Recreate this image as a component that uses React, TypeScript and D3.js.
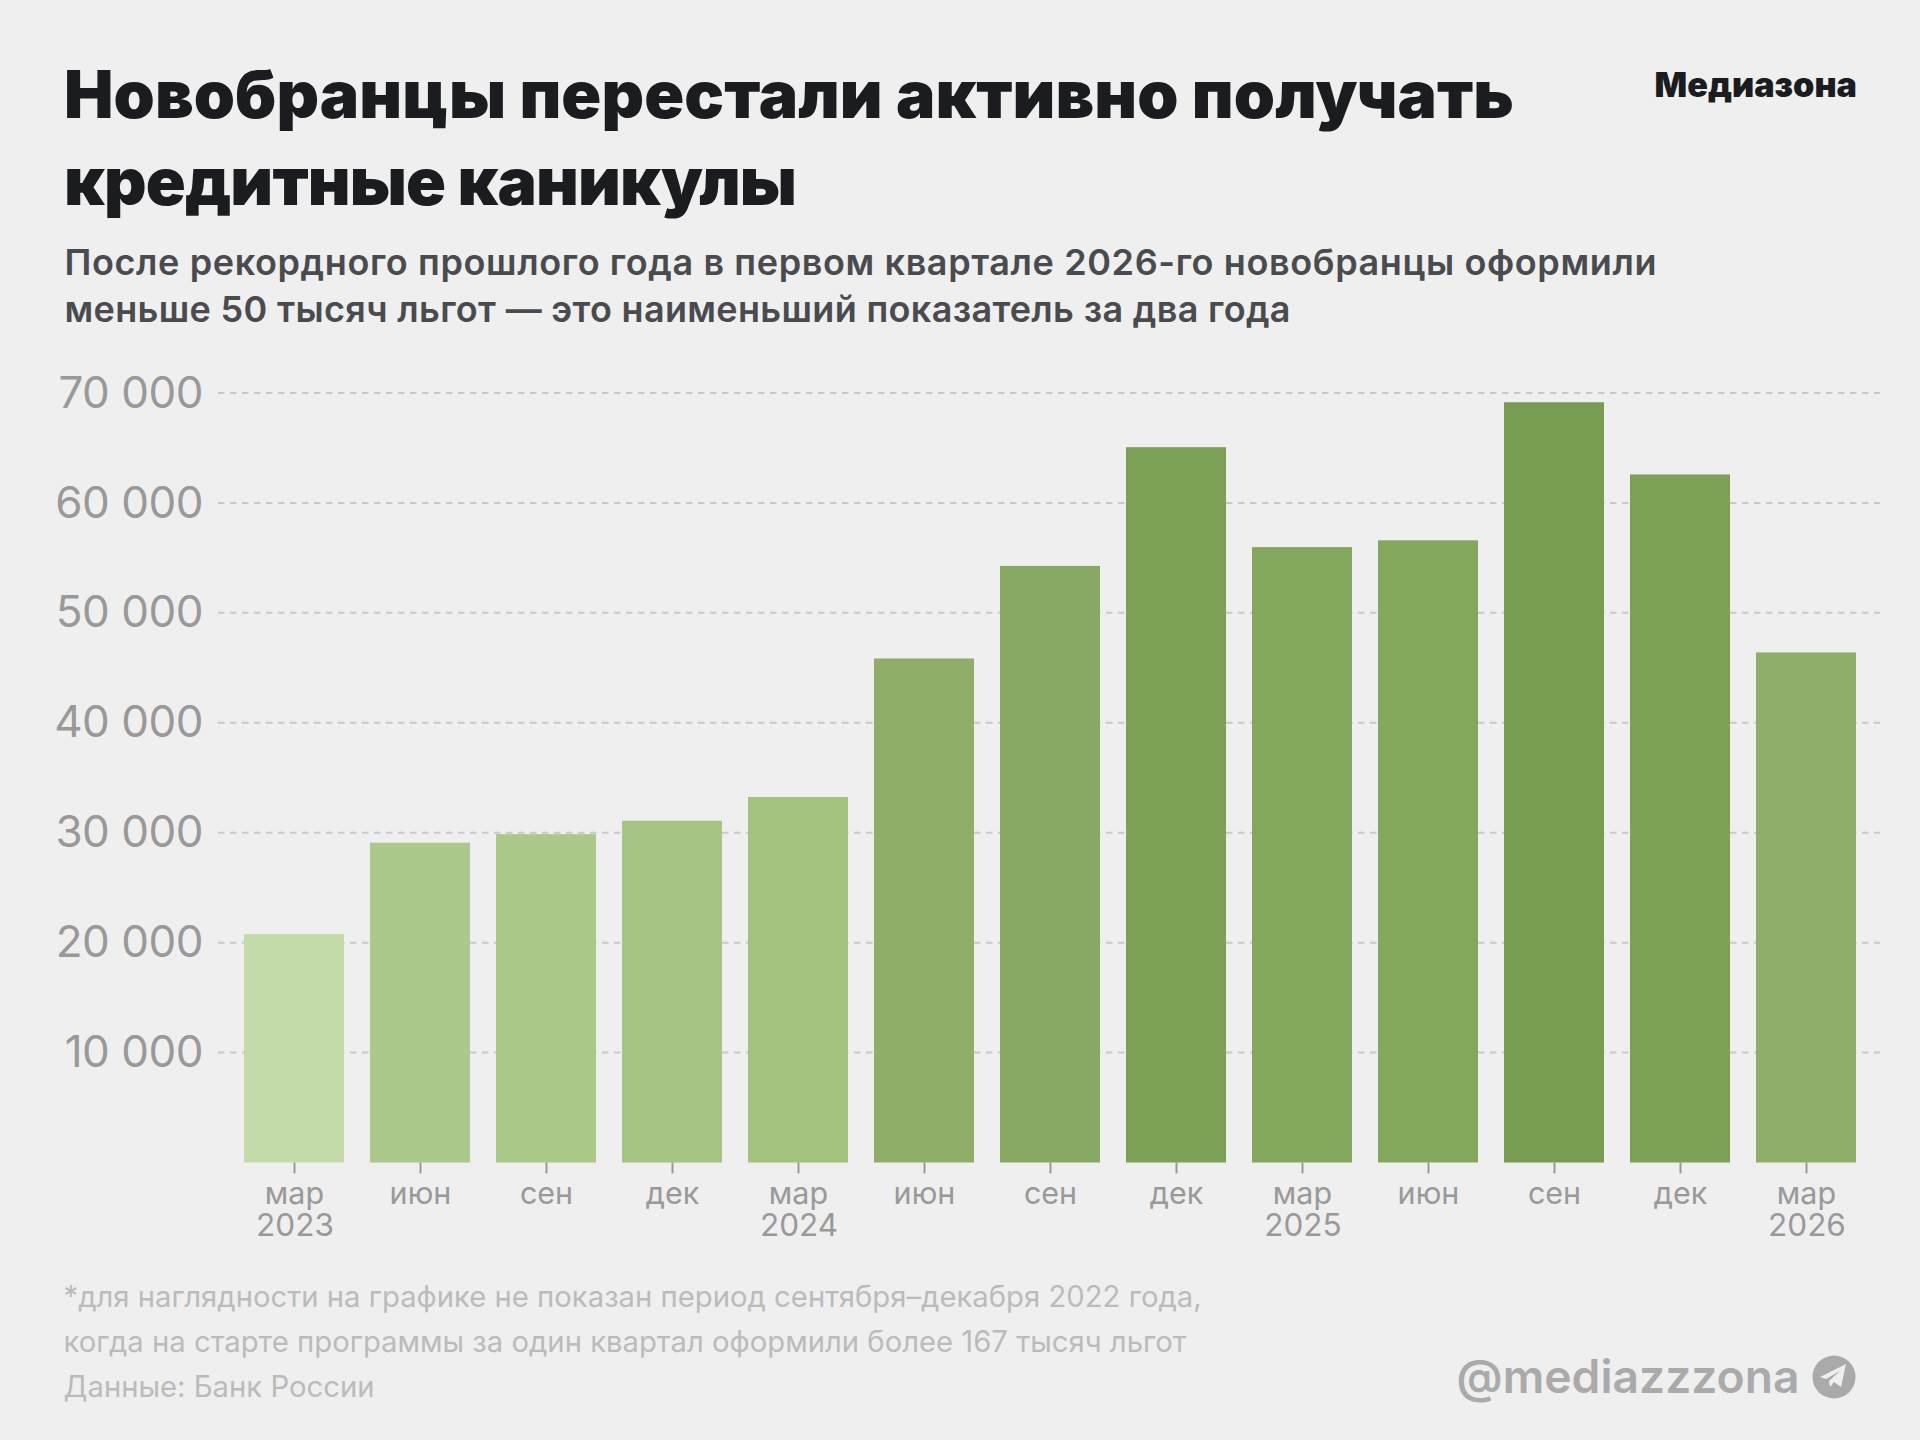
import { useEffect, useRef } from "react";
import * as d3 from "d3";

const WIDTH = 1920;
const HEIGHT = 1440;

const months = ["мар", "июн", "сен", "дек", "мар", "июн", "сен", "дек", "мар", "июн", "сен", "дек", "мар"];
const years = ["2023", "", "", "", "2024", "", "", "", "2025", "", "", "", "2026"];
const values = [20770, 29090, 29870, 31090, 33250, 45850, 54270, 65070, 55980, 56600, 69160, 62590, 46400];
const barColors = [
  "#c3dba8", "#abc98a", "#aac888", "#a6c584", "#a2c27e", "#8fae68", "#87a963",
  "#7ca157", "#84a75e", "#84a75e", "#789c52", "#7ca157", "#8fae69",
];
const yTicks = [10000, 20000, 30000, 40000, 50000, 60000, 70000];
const titleLines = ["Новобранцы перестали активно получать", "кредитные каникулы"];
const subtitleLines = [
  "После рекордного прошлого года в первом квартале 2026-го новобранцы оформили",
  "меньше 50 тысяч льгот — это наименьший показатель за два года",
];
const noteLines = [
  "*для наглядности на графике не показан период сентября–декабря 2022 года,",
  "когда на старте программы за один квартал оформили более 167 тысяч льгот",
  "Данные: Банк России",
];

const FONT = "Inter, sans-serif";
// line widths, the font here runs a bit narrower
const TITLE_LENGTHS = [1450, 733];
const SUBTITLE_LENGTHS = [1592, 1226];

export default function App() {
  const svgRef = useRef<SVGSVGElement>(null);

  useEffect(() => {
    const svg = d3.select(svgRef.current);
    svg.selectAll("*").remove();

    svg.append("rect").attr("width", WIDTH).attr("height", HEIGHT).attr("fill", "#efefef");

    // ---- Scales ----
    const x = d3
      .scaleBand<number>()
      .domain(d3.range(months.length))
      .range([231, 1869])
      .paddingInner(26 / 126)
      .paddingOuter(13 / 126);
    const y = d3.scaleLinear().domain([0, 70000]).range([1162.5, 393]);

    const fmt = d3.formatLocale({
      decimal: ",",
      thousands: " ",
      grouping: [3],
      currency: ["", ""],
    }).format(",d");

    // ---- Grid ----
    svg
      .append("g")
      .selectAll("line")
      .data(yTicks)
      .join("line")
      .attr("x1", 218)
      .attr("x2", 1880)
      .attr("y1", (d) => y(d))
      .attr("y2", (d) => y(d))
      .attr("stroke", "#c9c9c9")
      .attr("stroke-width", 2)
      .attr("stroke-dasharray", "6.5 5.5");

    // ---- Y axis ----
    const yAxis = svg
      .append("g")
      .attr("transform", "translate(203,0)")
      .call(d3.axisLeft(y).tickValues(yTicks).tickSize(0).tickPadding(0).tickFormat((d) => fmt(d as number)));
    yAxis.select(".domain").remove();
    yAxis
      .selectAll("text")
      .attr("font-family", FONT)
      .attr("font-size", 44)
      .attr("font-weight", 400)
      .attr("letter-spacing", -0.5)
      .attr("fill", "#999999");

    // ---- Bars ----
    svg
      .append("g")
      .selectAll("rect")
      .data(values)
      .join("rect")
      .attr("x", (_d, i) => x(i)!)
      .attr("y", (d) => y(d))
      .attr("width", x.bandwidth())
      .attr("height", (d) => y(0) - y(d))
      .attr("fill", (_d, i) => barColors[i]);

    // ---- X axis ----
    const xAxis = svg
      .append("g")
      .attr("transform", `translate(0.5,${y(0)})`)
      .call(
        d3
          .axisBottom(x)
          .tickSize(11)
          .tickPadding(0)
          .tickFormat((i) => months[i as number])
      );
    xAxis.select(".domain").remove();
    xAxis.selectAll("line").attr("stroke", "#999999").attr("stroke-width", 2);
    xAxis
      .selectAll("text")
      .attr("y", 41.5)
      .attr("dy", 0)
      .attr("font-family", FONT)
      .attr("font-size", 30.5)
      .attr("fill", "#999999");

    svg
      .append("g")
      .selectAll("text")
      .data(years)
      .join("text")
      .attr("x", (_d, i) => x(i)! + x.bandwidth() / 2 + 1)
      .attr("y", 1235.5)
      .attr("text-anchor", "middle")
      .attr("font-family", FONT)
      .attr("font-size", 31.5)
      .attr("fill", "#999999")
      .text((d) => d);

    // ---- Header ----
    svg
      .append("g")
      .selectAll("text")
      .data(titleLines)
      .join("text")
      .attr("x", 64)
      .attr("y", (_d, i) => 118 + i * 87)
      .attr("font-family", FONT)
      .attr("font-size", 66)
      .attr("font-weight", 900)
      .attr("textLength", (_d, i) => TITLE_LENGTHS[i])
      .attr("lengthAdjust", "spacing")
      .attr("fill", "#1b1c20")
      .text((d) => d);

    svg
      .append("g")
      .selectAll("text")
      .data(subtitleLines)
      .join("text")
      .attr("x", 64.5)
      .attr("y", (_d, i) => 275 + i * 47)
      .attr("font-family", FONT)
      .attr("font-size", 36)
      .attr("font-weight", 600)
      .attr("textLength", (_d, i) => SUBTITLE_LENGTHS[i])
      .attr("lengthAdjust", "spacing")
      .attr("fill", "#4a4b4f")
      .text((d) => d);

    svg
      .append("text")
      .attr("x", 1857)
      .attr("y", 97)
      .attr("text-anchor", "end")
      .attr("font-family", FONT)
      .attr("font-size", 34.2)
      .attr("font-weight", 900)
      .attr("fill", "#1b1c20")
      .text("Медиазона");

    // ---- Footer ----
    svg
      .append("g")
      .selectAll("text")
      .data(noteLines)
      .join("text")
      .attr("x", 63.5)
      .attr("y", (_d, i) => 1307 + i * 45)
      .attr("font-family", FONT)
      .attr("font-size", 29.25)
      .attr("fill", "#bbbbbb")
      .text((d) => d);

    svg
      .append("text")
      .attr("x", 1799.5)
      .attr("y", 1393)
      .attr("text-anchor", "end")
      .attr("font-family", FONT)
      .attr("font-size", 46.2)
      .attr("font-weight", 600)
      .attr("fill", "#aaaaaa")
      .text("@mediazzzona");

    // telegram badge
    const badge = svg.append("g").attr("transform", "translate(1834,1377)");
    badge.append("circle").attr("r", 21.5).attr("fill", "#aaaaaa");
    badge
      .append("path")
      .attr("d", "M-14 0L12-13L7 10L0 5L-4 10L-5 4L6-6L-8 2Z")
      .attr("fill", "#efefef");
  }, []);

  return (
    <svg
      ref={svgRef}
      width={WIDTH}
      height={HEIGHT}
      style={{ position: "absolute", left: 0, top: 0, display: "block" }}
    />
  );
}
